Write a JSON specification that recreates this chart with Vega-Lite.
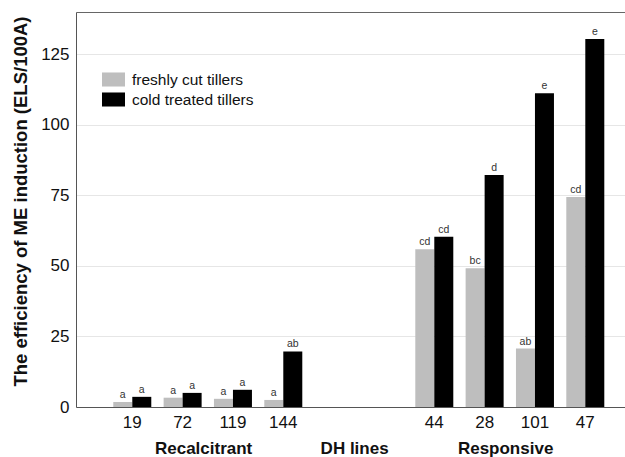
{
  "$schema": "https://vega.github.io/schema/vega-lite/v6.json",
  "width": 549,
  "height": 395,
  "autosize": {"type": "none"},
  "padding": {"left": 76, "top": 12, "right": 0, "bottom": 50},
  "background": "white",
  "config": {
    "font": "Liberation Sans",
    "view": {"stroke": null}
  },
  "data": {
    "values": [
      {"line": "19", "treatment": "freshly cut tillers", "value": 1.8, "letter": "a"},
      {"line": "19", "treatment": "cold treated tillers", "value": 3.6, "letter": "a"},
      {"line": "72", "treatment": "freshly cut tillers", "value": 3.3, "letter": "a"},
      {"line": "72", "treatment": "cold treated tillers", "value": 5.0, "letter": "a"},
      {"line": "119", "treatment": "freshly cut tillers", "value": 2.9, "letter": "a"},
      {"line": "119", "treatment": "cold treated tillers", "value": 6.1, "letter": "a"},
      {"line": "144", "treatment": "freshly cut tillers", "value": 2.5, "letter": "a"},
      {"line": "144", "treatment": "cold treated tillers", "value": 19.7, "letter": "ab"},
      {"line": "44", "treatment": "freshly cut tillers", "value": 55.9, "letter": "cd"},
      {"line": "44", "treatment": "cold treated tillers", "value": 60.3, "letter": "cd"},
      {"line": "28", "treatment": "freshly cut tillers", "value": 49.2, "letter": "bc"},
      {"line": "28", "treatment": "cold treated tillers", "value": 82.2, "letter": "d"},
      {"line": "101", "treatment": "freshly cut tillers", "value": 20.7, "letter": "ab"},
      {"line": "101", "treatment": "cold treated tillers", "value": 111.2, "letter": "e"},
      {"line": "47", "treatment": "freshly cut tillers", "value": 74.4, "letter": "cd"},
      {"line": "47", "treatment": "cold treated tillers", "value": 130.4, "letter": "e"}
    ]
  },
  "encoding": {
    "x": {
      "field": "line",
      "type": "nominal",
      "sort": null,
      "scale": {
        "domain": ["19", "72", "119", "144", "g1", "g2", "44", "28", "101", "47"],
        "paddingInner": 0.245,
        "paddingOuter": 0.576,
        "align": 0.643
      }
    },
    "xOffset": {
      "field": "treatment",
      "type": "nominal",
      "scale": {"domain": ["freshly cut tillers", "cold treated tillers"], "paddingInner": 0, "paddingOuter": 0}
    },
    "y": {
      "field": "value",
      "type": "quantitative",
      "scale": {"domain": [0, 140], "nice": false}
    }
  },
  "layer": [
    {
      "mark": {"type": "bar"},
      "encoding": {
        "x": {
          "field": "line",
          "type": "nominal",
          "axis": {
            "title": null,
            "labelAngle": 0,
            "labelFontSize": 17,
            "labelColor": "#111111",
            "labelPadding": 7,
            "ticks": false,
            "domainColor": "#555555",
            "grid": false,
            "labelExpr": "datum.value == 'g1' || datum.value == 'g2' ? '' : datum.value"
          }
        },
        "y": {
          "field": "value",
          "type": "quantitative",
          "axis": {
            "title": "The efficiency of ME induction (ELS/100A)",
            "titleFontSize": 18.5,
            "titleFontWeight": "bold",
            "titleColor": "#111111",
            "titleBaseline": "alphabetic",
            "titleX": -50,
            "titleY": 189,
            "values": [0, 25, 50, 75, 100, 125],
            "labelFontSize": 17,
            "labelColor": "#111111",
            "labelPadding": 7,
            "ticks": false,
            "domainColor": "#555555",
            "gridColor": "#e6e6e6"
          }
        },
        "color": {
          "field": "treatment",
          "type": "nominal",
          "scale": {
            "domain": ["freshly cut tillers", "cold treated tillers"],
            "range": ["#bebebe", "#000000"]
          },
          "legend": {
            "title": null,
            "orient": "none",
            "legendX": 26,
            "legendY": 56,
            "padding": 0,
            "symbolType": "M-1,-0.61L1,-0.61L1,0.61L-1,0.61Z",
            "symbolSize": 529,
            "symbolStrokeWidth": 0,
            "rowPadding": -5,
            "labelOffset": 7,
            "labelFontSize": 15.5,
            "labelColor": "#111111"
          }
        }
      }
    },
    {
      "mark": {"type": "text", "baseline": "bottom", "dy": -2, "fontSize": 10.5, "color": "#333333"},
      "encoding": {
        "x": {
          "field": "line",
          "type": "nominal",
          "axis": {
            "orient": "bottom",
            "title": null,
            "labelAngle": 0,
            "labelFontSize": 17,
            "labelFontWeight": "bold",
            "labelColor": "#111111",
            "labelPadding": 33,
            "labelOffset": 21,
            "ticks": false,
            "domain": false,
            "grid": false,
            "labelOverlap": false,
            "labelBound": false,
            "labelExpr": "datum.value == '72' ? 'Recalcitrant' : datum.value == 'g1' ? 'DH lines' : datum.value == '28' ? 'Responsive' : ''"
          }
        },
        "text": {"field": "letter"}
      }
    },
    {
      "mark": {"type": "bar", "opacity": 0},
      "encoding": {
        "x": {
          "field": "line",
          "type": "nominal",
          "axis": {
            "orient": "top",
            "title": null,
            "labels": false,
            "ticks": false,
            "domain": true,
            "domainColor": "#666666",
            "grid": false
          }
        }
      }
    }
  ],
  "resolve": {"axis": {"x": "independent"}}
}
